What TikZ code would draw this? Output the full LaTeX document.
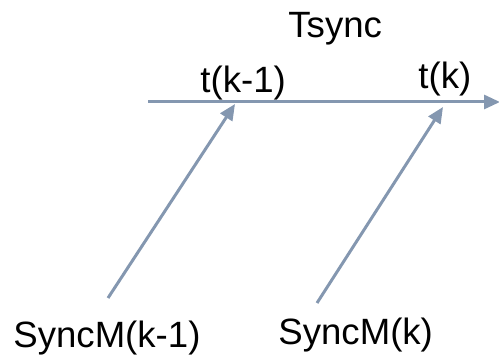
\documentclass[tikz,border=0pt]{standalone}
\usepackage{fontspec}
\setmainfont{Liberation Sans}
\usetikzlibrary{arrows.meta}
\definecolor{axisgray}{HTML}{8497B0}

\begin{document}
\begin{tikzpicture}[x=0.5pt,y=-0.5pt]
\tikzset{every node/.style={inner sep=0pt,anchor=base west,font=\fontsize{18.3}{22}\selectfont}}
\tikzset{syncarrow/.style={axisgray,line width=1.5pt,-{Triangle[length=8pt,width=7pt]}}}
\useasboundingbox (0,0) rectangle (499,357);
% time axis
\coordinate (t0) at (148,102);
\coordinate (t1) at (500,102);
\draw [syncarrow] (t0) -- (t1);
\node (tsync) at (288,38) {Tsync};
\node (tkm1) at (200,93) {t(k-1)};
\node (tk) at (418,89) {t(k)};
% sync messages
\coordinate (mkm1) at (108,298);
\coordinate (akm1) at (235,104);
\draw [syncarrow] (mkm1) -- (akm1);
\coordinate (mk) at (317,303);
\coordinate (ak) at (443,107);
\draw [syncarrow] (mk) -- (ak);
\node (syncm1) at (13,348) {SyncM(k-1)};
\node (syncm) at (278,345) {SyncM(k)};
\end{tikzpicture}
\end{document}
